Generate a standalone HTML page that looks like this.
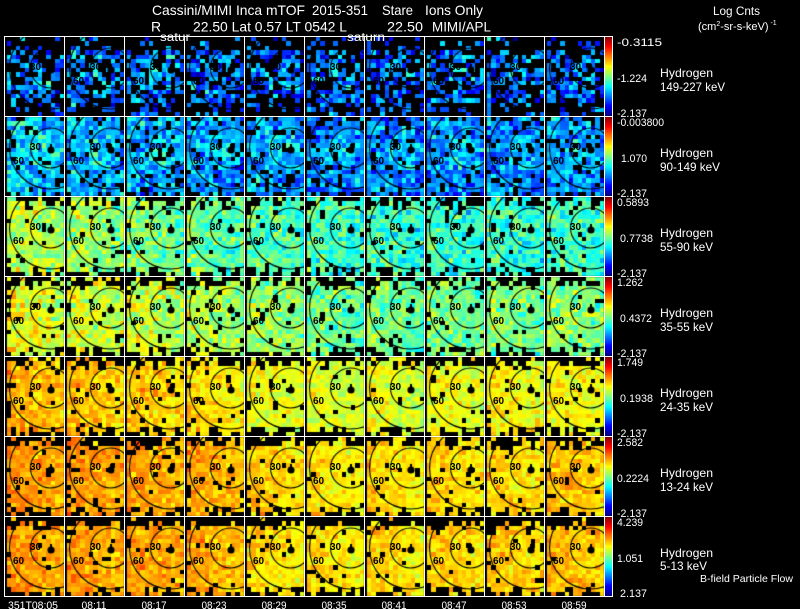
<!DOCTYPE html>
<html><head><meta charset="utf-8">
<style>
html,body{margin:0;padding:0;background:#000;width:800px;height:609px;overflow:hidden}
#c{position:absolute;left:0;top:0}
svg{position:absolute;left:0;top:0}
text{font-family:"Liberation Sans",Arial,sans-serif;fill:#fff}
.lb text{font-family:"Liberation Sans",sans-serif;font-weight:bold;font-size:10px;fill:#000}
</style></head><body>
<canvas id="c" width="800" height="609"></canvas>
<script>
(function(){
var cv=document.getElementById('c'),ctx=cv.getContext('2d');
ctx.fillStyle='#000';ctx.fillRect(0,0,800,609);
var s=987654321;
function rnd(){s^=s<<13;s^=s>>>17;s^=s<<5;return ((s>>>0)%1000003)/1000003;}
function g(){return (rnd()+rnd()+rnd()-1.5)*2;}
function cl(x){return x<0?0:x>1?1:x;}
function jet(v){v=cl(v);var r=cl(1.5-Math.abs(4*v-3)),gg=cl(1.5-Math.abs(4*v-2)),b=cl(1.5-Math.abs(4*v-1));
return 'rgb('+Math.round(r*255)+','+Math.round(gg*255)+','+Math.round(b*255)+')';}
var M=[
[0.21,0.21,0.21,0.20,0.20,0.19,0.19,0.19,0.20,0.19],
[0.30,0.27,0.27,0.26,0.25,0.23,0.23,0.24,0.24,0.24],
[0.52,0.50,0.48,0.45,0.43,0.41,0.40,0.40,0.40,0.41],
[0.58,0.56,0.55,0.52,0.50,0.46,0.46,0.47,0.48,0.49],
[0.67,0.66,0.65,0.63,0.58,0.57,0.58,0.59,0.60,0.60],
[0.70,0.70,0.69,0.68,0.64,0.62,0.63,0.64,0.64,0.66],
[0.70,0.69,0.69,0.68,0.63,0.62,0.63,0.64,0.65,0.66]];
var SD=[0.08,0.07,0.06,0.055,0.04,0.035,0.035];
var TOP=[0.45,0.2,0.35,0.4,0.45,0.5,0.7];
var BASE=[0.42,0.13,0.05,0.05,0.05,0.05,0.05];
var NI=13,NJ=18,bw=57/NI,bh=79/NJ;
for(var r=0;r<7;r++){for(var c=0;c<10;c++){
 var X=4+60*c,Y=36+80*r;
 for(var j=0;j<NJ;j++){for(var i=0;i<NI;i++){
  var p=BASE[r];
  if(r==0){if(j<3)p+=0.4;if(j>=15)p+=0.3;if(i==NI-1)p+=0.1;}
  else if(r==1){if(j<1)p+=0.2;if(j>=17)p+=0.2;}
  else{if(j==0)p+=TOP[r]+0.2;else if(j==1)p+=TOP[r];else if(j==2)p+=TOP[r]*0.3;
       if(j==17)p+=0.5;else if(j==16)p+=0.25;if(i==0)p+=0.1;}
  if(rnd()<p)continue;
  var v=M[r][c]+0.04*(1-i/(NI-1))+SD[r]*g();
  if(r<2){var cx=X+3+(i+0.5)*bw-(X+40),cy=Y+1+(j+0.5)*bh-(Y+35);if(cx*cx+cy*cy<18*18)v+=0.06;}
  ctx.fillStyle=jet(v);
  var x1=Math.round(X+3+i*bw),x2=Math.round(X+3+(i+1)*bw),y1=Math.round(Y+1+j*bh),y2=Math.round(Y+1+(j+1)*bh);
  ctx.fillRect(x1,y1,x2-x1,y2-y1);
 }}
 ctx.save();ctx.beginPath();ctx.rect(X+1,Y+1,59,79);ctx.clip();
 ctx.strokeStyle='#000';ctx.lineWidth=1.1;
 ctx.beginPath();ctx.arc(X+46.5,Y+32,20,0,2*Math.PI);ctx.stroke();
 ctx.beginPath();ctx.arc(X+46.5,Y+32,41,0,2*Math.PI);ctx.stroke();
 ctx.fillStyle='#000';ctx.beginPath();ctx.arc(X+47,Y+34,3.6,0,2*Math.PI);ctx.fill();ctx.fillRect(X+46,Y+28,2,4);
 ctx.restore();
}}
})();
</script>
<svg width="800" height="609" viewBox="0 0 800 609" xmlns="http://www.w3.org/2000/svg">
<defs>
<linearGradient id="jet" x1="0" y1="0" x2="0" y2="1">
<stop offset="0" stop-color="#800000"/><stop offset="0.125" stop-color="#ff0000"/><stop offset="0.375" stop-color="#ffff00"/><stop offset="0.625" stop-color="#00ffff"/><stop offset="0.875" stop-color="#0000ff"/><stop offset="1" stop-color="#000080"/>
</linearGradient>
</defs>
<!-- cell labels -->
<g class="lb">
<g transform="translate(0,36)"><text x="30" y="34">30</text><text x="90" y="34">30</text><text x="150" y="34">30</text><text x="210" y="34">30</text><text x="270" y="34">30</text><text x="330" y="34">30</text><text x="390" y="34">30</text><text x="450" y="34">30</text><text x="510" y="34">30</text><text x="570" y="34">30</text><text x="13" y="48">60</text><text x="73" y="48">60</text><text x="133" y="48">60</text><text x="193" y="48">60</text><text x="253" y="48">60</text><text x="313" y="48">60</text><text x="373" y="48">60</text><text x="433" y="48">60</text><text x="493" y="48">60</text><text x="553" y="48">60</text></g>
<g transform="translate(0,116)"><text x="30" y="34">30</text><text x="90" y="34">30</text><text x="150" y="34">30</text><text x="210" y="34">30</text><text x="270" y="34">30</text><text x="330" y="34">30</text><text x="390" y="34">30</text><text x="450" y="34">30</text><text x="510" y="34">30</text><text x="570" y="34">30</text><text x="13" y="48">60</text><text x="73" y="48">60</text><text x="133" y="48">60</text><text x="193" y="48">60</text><text x="253" y="48">60</text><text x="313" y="48">60</text><text x="373" y="48">60</text><text x="433" y="48">60</text><text x="493" y="48">60</text><text x="553" y="48">60</text></g>
<g transform="translate(0,196)"><text x="30" y="34">30</text><text x="90" y="34">30</text><text x="150" y="34">30</text><text x="210" y="34">30</text><text x="270" y="34">30</text><text x="330" y="34">30</text><text x="390" y="34">30</text><text x="450" y="34">30</text><text x="510" y="34">30</text><text x="570" y="34">30</text><text x="13" y="48">60</text><text x="73" y="48">60</text><text x="133" y="48">60</text><text x="193" y="48">60</text><text x="253" y="48">60</text><text x="313" y="48">60</text><text x="373" y="48">60</text><text x="433" y="48">60</text><text x="493" y="48">60</text><text x="553" y="48">60</text></g>
<g transform="translate(0,276)"><text x="30" y="34">30</text><text x="90" y="34">30</text><text x="150" y="34">30</text><text x="210" y="34">30</text><text x="270" y="34">30</text><text x="330" y="34">30</text><text x="390" y="34">30</text><text x="450" y="34">30</text><text x="510" y="34">30</text><text x="570" y="34">30</text><text x="13" y="48">60</text><text x="73" y="48">60</text><text x="133" y="48">60</text><text x="193" y="48">60</text><text x="253" y="48">60</text><text x="313" y="48">60</text><text x="373" y="48">60</text><text x="433" y="48">60</text><text x="493" y="48">60</text><text x="553" y="48">60</text></g>
<g transform="translate(0,356)"><text x="30" y="34">30</text><text x="90" y="34">30</text><text x="150" y="34">30</text><text x="210" y="34">30</text><text x="270" y="34">30</text><text x="330" y="34">30</text><text x="390" y="34">30</text><text x="450" y="34">30</text><text x="510" y="34">30</text><text x="570" y="34">30</text><text x="13" y="48">60</text><text x="73" y="48">60</text><text x="133" y="48">60</text><text x="193" y="48">60</text><text x="253" y="48">60</text><text x="313" y="48">60</text><text x="373" y="48">60</text><text x="433" y="48">60</text><text x="493" y="48">60</text><text x="553" y="48">60</text></g>
<g transform="translate(0,436)"><text x="30" y="34">30</text><text x="90" y="34">30</text><text x="150" y="34">30</text><text x="210" y="34">30</text><text x="270" y="34">30</text><text x="330" y="34">30</text><text x="390" y="34">30</text><text x="450" y="34">30</text><text x="510" y="34">30</text><text x="570" y="34">30</text><text x="13" y="48">60</text><text x="73" y="48">60</text><text x="133" y="48">60</text><text x="193" y="48">60</text><text x="253" y="48">60</text><text x="313" y="48">60</text><text x="373" y="48">60</text><text x="433" y="48">60</text><text x="493" y="48">60</text><text x="553" y="48">60</text></g>
<g transform="translate(0,516)"><text x="30" y="34">30</text><text x="90" y="34">30</text><text x="150" y="34">30</text><text x="210" y="34">30</text><text x="270" y="34">30</text><text x="330" y="34">30</text><text x="390" y="34">30</text><text x="450" y="34">30</text><text x="510" y="34">30</text><text x="570" y="34">30</text><text x="13" y="48">60</text><text x="73" y="48">60</text><text x="133" y="48">60</text><text x="193" y="48">60</text><text x="253" y="48">60</text><text x="313" y="48">60</text><text x="373" y="48">60</text><text x="433" y="48">60</text><text x="493" y="48">60</text><text x="553" y="48">60</text></g>
</g>
<!-- colorbars -->
<g>
<rect x="605" y="37" width="7" height="79" fill="url(#jet)"/>
<rect x="605" y="117" width="7" height="79" fill="url(#jet)"/>
<rect x="605" y="197" width="7" height="79" fill="url(#jet)"/>
<rect x="605" y="277" width="7" height="79" fill="url(#jet)"/>
<rect x="605" y="357" width="7" height="79" fill="url(#jet)"/>
<rect x="605" y="437" width="7" height="79" fill="url(#jet)"/>
<rect x="605" y="517" width="7" height="79" fill="url(#jet)"/>
</g>
<!-- grid -->
<g stroke="#fff" stroke-width="1" fill="none">
<path d="M4.5 36V597M64.5 36V597M124.5 36V597M184.5 36V597M244.5 36V597M304.5 36V597M364.5 36V597M424.5 36V597M484.5 36V597M544.5 36V597M604.5 36V597M612.5 36V597"/>
<path d="M4 36.5H613M4 116.5H613M4 196.5H613M4 276.5H613M4 356.5H613M4 436.5H613M4 516.5H613M4 596.5H613"/>
</g>
<!-- title -->
<g font-size="14">
<text x="152" y="15" textLength="153" lengthAdjust="spacingAndGlyphs">Cassini/MIMI Inca mTOF</text>
<text x="312" y="15" textLength="56" lengthAdjust="spacingAndGlyphs">2015-351</text>
<text x="382" y="15" textLength="31" lengthAdjust="spacingAndGlyphs">Stare</text>
<text x="425" y="15" textLength="58" lengthAdjust="spacingAndGlyphs">Ions Only</text>
<text x="151" y="31.5">R</text>
<text x="193" y="31.5" textLength="154" lengthAdjust="spacingAndGlyphs">22.50 Lat 0.57 LT 0542 L</text>
<text x="387" y="31.5" textLength="36" lengthAdjust="spacingAndGlyphs">22.50</text>
<text x="432" y="31.5" textLength="59" lengthAdjust="spacingAndGlyphs">MIMI/APL</text>
</g>
<g font-size="12">
<text x="160" y="41" textLength="30" lengthAdjust="spacingAndGlyphs">satur</text>
<text x="347" y="41" textLength="38" lengthAdjust="spacingAndGlyphs">saturn</text>
<text x="713" y="15" textLength="47" lengthAdjust="spacingAndGlyphs">Log Cnts</text>
</g>
<text x="698" y="30" font-size="11">(cm<tspan font-size="7" dy="-4">2</tspan><tspan dy="4">-sr-s-keV)</tspan><tspan font-size="7" dy="-5"> -1</tspan></text>
<!-- colorbar labels -->
<g font-size="11">
<text x="617" y="46" textLength="45" lengthAdjust="spacingAndGlyphs">-0.3115</text>
<text x="617" y="82" textLength="30" lengthAdjust="spacingAndGlyphs">-1.224</text>
<text x="617" y="117" textLength="30" lengthAdjust="spacingAndGlyphs">-2.137</text>
<text x="617" y="126" textLength="47" lengthAdjust="spacingAndGlyphs">-0.003800</text>
<text x="621" y="162" textLength="26" lengthAdjust="spacingAndGlyphs">1.070</text>
<text x="617" y="197" textLength="30" lengthAdjust="spacingAndGlyphs">-2.137</text>
<text x="617" y="206" textLength="32" lengthAdjust="spacingAndGlyphs">0.5893</text>
<text x="620" y="242" textLength="33" lengthAdjust="spacingAndGlyphs">0.7738</text>
<text x="617" y="277" textLength="30" lengthAdjust="spacingAndGlyphs">-2.137</text>
<text x="617" y="286" textLength="26" lengthAdjust="spacingAndGlyphs">1.262</text>
<text x="620" y="322" textLength="32" lengthAdjust="spacingAndGlyphs">0.4372</text>
<text x="617" y="357" textLength="30" lengthAdjust="spacingAndGlyphs">-2.137</text>
<text x="617" y="366" textLength="26" lengthAdjust="spacingAndGlyphs">1.749</text>
<text x="620" y="402" textLength="33" lengthAdjust="spacingAndGlyphs">0.1938</text>
<text x="617" y="437" textLength="30" lengthAdjust="spacingAndGlyphs">-2.137</text>
<text x="617" y="446" textLength="26" lengthAdjust="spacingAndGlyphs">2.582</text>
<text x="617" y="482" textLength="32" lengthAdjust="spacingAndGlyphs">0.2224</text>
<text x="617" y="517" textLength="30" lengthAdjust="spacingAndGlyphs">-2.137</text>
<text x="617" y="526" textLength="26" lengthAdjust="spacingAndGlyphs">4.239</text>
<text x="617" y="562" textLength="26" lengthAdjust="spacingAndGlyphs">1.051</text>
<text x="620" y="597" textLength="27" lengthAdjust="spacingAndGlyphs">2.137</text>
</g>
<!-- species labels -->
<g font-size="12">
<text x="660" y="77" textLength="53" lengthAdjust="spacingAndGlyphs">Hydrogen</text>
<text x="660" y="91" textLength="65" lengthAdjust="spacingAndGlyphs">149-227 keV</text>
<text x="660" y="157" textLength="53" lengthAdjust="spacingAndGlyphs">Hydrogen</text>
<text x="660" y="171" textLength="60" lengthAdjust="spacingAndGlyphs">90-149 keV</text>
<text x="660" y="237" textLength="53" lengthAdjust="spacingAndGlyphs">Hydrogen</text>
<text x="660" y="251" textLength="53" lengthAdjust="spacingAndGlyphs">55-90 keV</text>
<text x="660" y="317" textLength="53" lengthAdjust="spacingAndGlyphs">Hydrogen</text>
<text x="660" y="331" textLength="53" lengthAdjust="spacingAndGlyphs">35-55 keV</text>
<text x="660" y="397" textLength="53" lengthAdjust="spacingAndGlyphs">Hydrogen</text>
<text x="660" y="411" textLength="53" lengthAdjust="spacingAndGlyphs">24-35 keV</text>
<text x="660" y="477" textLength="53" lengthAdjust="spacingAndGlyphs">Hydrogen</text>
<text x="660" y="491" textLength="53" lengthAdjust="spacingAndGlyphs">13-24 keV</text>
<text x="660" y="557" textLength="53" lengthAdjust="spacingAndGlyphs">Hydrogen</text>
<text x="660" y="570" textLength="47" lengthAdjust="spacingAndGlyphs">5-13 keV</text>
</g>
<text x="700" y="582" font-size="10.5" textLength="93" lengthAdjust="spacingAndGlyphs">B-field Particle Flow</text>
<!-- time labels -->
<g font-size="11">
<text x="8" y="609" textLength="50" lengthAdjust="spacingAndGlyphs">351T08:05</text>
<g text-anchor="middle">
<text x="94" y="609" textLength="25" lengthAdjust="spacingAndGlyphs">08:11</text>
<text x="154" y="609" textLength="25" lengthAdjust="spacingAndGlyphs">08:17</text>
<text x="214" y="609" textLength="25" lengthAdjust="spacingAndGlyphs">08:23</text>
<text x="274" y="609" textLength="25" lengthAdjust="spacingAndGlyphs">08:29</text>
<text x="334" y="609" textLength="25" lengthAdjust="spacingAndGlyphs">08:35</text>
<text x="394" y="609" textLength="25" lengthAdjust="spacingAndGlyphs">08:41</text>
<text x="454" y="609" textLength="25" lengthAdjust="spacingAndGlyphs">08:47</text>
<text x="514" y="609" textLength="25" lengthAdjust="spacingAndGlyphs">08:53</text>
<text x="574" y="609" textLength="25" lengthAdjust="spacingAndGlyphs">08:59</text>
</g>
</g>
</svg>
</body></html>
